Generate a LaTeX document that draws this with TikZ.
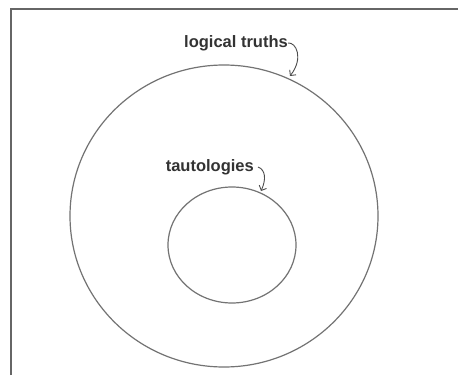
\documentclass[tikz,border=0pt]{standalone}
\usepackage{fontspec}
\setmainfont{Liberation Sans}
\usetikzlibrary{arrows.meta,shapes.geometric}
\begin{document}
\begin{tikzpicture}[x=1pt,y=-1pt,
  setline/.style={draw=black!55,line width=1.2pt},
  lbl/.style={font=\fontsize{16.5}{19}\selectfont\bfseries,text=black!80,inner sep=0pt},
  pointer/.style={draw=black!70,line width=0.9pt,-{Straight Barb[length=4pt,width=8pt]}}]
\useasboundingbox (0,0) rectangle (458,383);
\fill[white] (0,0) rectangle (458,383);
\coordinate (fbl) at (11,375);
\coordinate (ftl) at (11,9);
\coordinate (ftr) at (458,9);
\draw[draw=black!60,line width=1.4pt] (fbl) -- (ftl) -- (ftr);
\node[setline,ellipse,minimum width=308pt,minimum height=302pt,inner sep=0pt] (outer) at (224,216) {};
\node[setline,ellipse,minimum width=128pt,minimum height=116pt,inner sep=0pt] (inner) at (232,245) {};
\node[lbl,anchor=east] (lt) at (288,43) {logical truths};
\node[lbl,anchor=east] (ta) at (254,167) {tautologies};
\coordinate (ltend) at (290,76);
\coordinate (taend) at (261,191);
\draw[pointer] (lt.east) .. controls (296,42) and (304,58) .. (ltend);
\draw[pointer] ([xshift=4pt]ta.east) .. controls (266,170) and (266,180) .. (taend);
\end{tikzpicture}
\end{document}
